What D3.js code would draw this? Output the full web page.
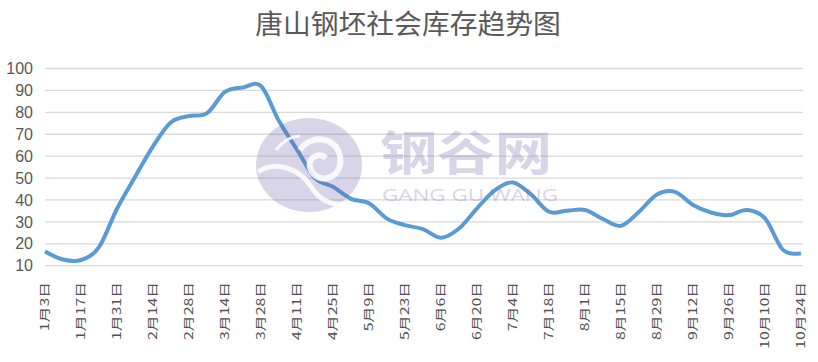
<!DOCTYPE html>
<html>
<head>
<meta charset="utf-8">
<script src="https://cdn.jsdelivr.net/npm/d3@7"></script>
<style>
  body { margin: 0; background: #fff; }
  svg { display: block; }
</style>
</head>
<body>
<div id="chart"></div>
<script>
const dates = ['1月3日', '1月10日', '1月17日', '1月24日', '1月31日', '2月7日', '2月14日', '2月21日', '2月28日',
    '3月7日', '3月14日', '3月21日', '3月28日', '4月4日', '4月11日', '4月18日', '4月25日', '5月2日', '5月9日',
    '5月16日', '5月23日', '5月30日', '6月6日', '6月13日', '6月20日', '6月27日', '7月4日', '7月11日', '7月18日',
    '7月25日', '8月1日', '8月8日', '8月15日', '8月22日', '8月29日', '9月5日', '9月12日', '9月19日', '9月26日',
    '10月3日', '10月10日', '10月17日', '10月24日'];
const stock = [16.5, 12.8, 12.6, 18.5, 36, 50.5, 64.5, 75.5, 78.3, 79.6, 89.3, 91.3, 92, 76, 63, 50, 46, 40.5,
    38.5, 31.5, 28.5, 26.7, 22.8, 27, 36.2, 44.5, 48, 42.5, 34.6, 35.1, 35.4, 31.3, 28.2, 34.6, 42.5, 43.7,
    37.7, 34.3, 33.1, 35.4, 31.6, 17.2, 15.7];
const yTicks = [10, 20, 30, 40, 50, 60, 70, 80, 90, 100];
const xTickLabels = dates.filter((d, i) => i % 2 === 0);

const width = 818;
const height = 362;
const textColor = '#595959';

const svg = d3.select('#chart')
    .append('svg')
    .attr('width', width)
    .attr('height', height);

svg.append('rect')
    .attr('width', width)
    .attr('height', height)
    .attr('fill', '#fff');

svg.append('text')
    .attr('transform', 'translate(408, 34) scale(1.03, 1)')
    .attr('text-anchor', 'middle')
    .attr('font-family', '"Noto Sans CJK SC", sans-serif')
    .attr('font-size', 27)
    .attr('fill', textColor)
    .text('唐山钢坯社会库存趋势图');

const x = d3.scalePoint()
    .domain(dates)
    .range([45, 801]);

const y = d3.scaleLinear()
    .domain([10, 100])
    .range([265.7, 68.5]);

// gridlines
svg.append('g')
    .selectAll('line')
    .data(yTicks)
    .enter()
    .append('line')
    .attr('x1', 45)
    .attr('x2', 803)
    .attr('y1', (d) => y(d))
    .attr('y2', (d) => y(d))
    .attr('stroke', '#d9d9d9')
    .attr('stroke-width', 1.3);

// y labels
const yAxis = d3.axisLeft(y).tickValues(yTicks).tickSize(0).tickPadding(0);
svg.append('g')
    .attr('transform', 'translate(33, 0)')
    .call(yAxis)
    .call((g) => g.select('.domain').remove())
    .selectAll('text')
    .attr('font-family', '"Liberation Sans", Arial, sans-serif')
    .attr('font-size', 16)
    .attr('fill', textColor);

// x labels, rotated
svg.append('g')
    .selectAll('text')
    .data(xTickLabels)
    .enter()
    .append('text')
    .attr('transform', (d) => `translate(${x(d) - 1.5}, 282) rotate(-90) scale(1.13, 0.85)`)
    .attr('text-anchor', 'end')
    .attr('dominant-baseline', 'central')
    .attr('font-family', '"Noto Sans CJK SC", sans-serif')
    .attr('font-size', 14)
    .attr('fill', '#505050')
    .text((d) => d);

const line = d3.line()
    .x((d, i) => x(dates[i]))
    .y((d) => y(d))
    .curve(d3.curveCardinal.tension(0));

svg.append('path')
    .datum(stock)
    .attr('d', line)
    .attr('fill', 'none')
    .attr('stroke', '#5b9bd5')
    .attr('stroke-width', 4)
    .attr('stroke-linejoin', 'round');

// watermark on top, semi transparent
const mark = svg.append('g')
    .attr('opacity', 0.26);

mark.append('ellipse')
    .attr('cx', 309)
    .attr('cy', 165)
    .attr('rx', 53)
    .attr('ry', 47)
    .attr('fill', '#6a62a8');

const swirl = svg.append('g')
    .attr('fill', 'none')
    .attr('stroke', '#fff')
    .attr('opacity', 0.85);

swirl.append('path')
    .attr('d', 'M258,172 C275,160 300,168 312,188 C318,198 330,206 345,204')
    .attr('stroke-width', 5);
swirl.append('path')
    .attr('d', 'M300,150 C310,134 336,136 340,156 C344,176 322,186 312,172 C304,160 318,150 326,158')
    .attr('stroke-width', 6);
swirl.append('path')
    .attr('d', 'M276,150 C284,140 292,136 300,136')
    .attr('stroke-width', 3);

mark.append('text')
    .attr('transform', 'translate(380, 170) scale(1.22, 1)')
    .attr('font-family', '"Noto Sans CJK SC", sans-serif')
    .attr('font-size', 47)
    .attr('font-weight', 'bold')
    .attr('fill', '#6a62a8')
    .text('钢谷网');

mark.append('text')
    .attr('x', 382)
    .attr('y', 201)
    .attr('textLength', 176)
    .attr('lengthAdjust', 'spacingAndGlyphs')
    .attr('font-family', '"Open Sans", sans-serif')
    .attr('font-size', 17)
    .attr('fill', '#6a62a8')
    .text('GANG GU WANG');
</script>
</body>
</html>
